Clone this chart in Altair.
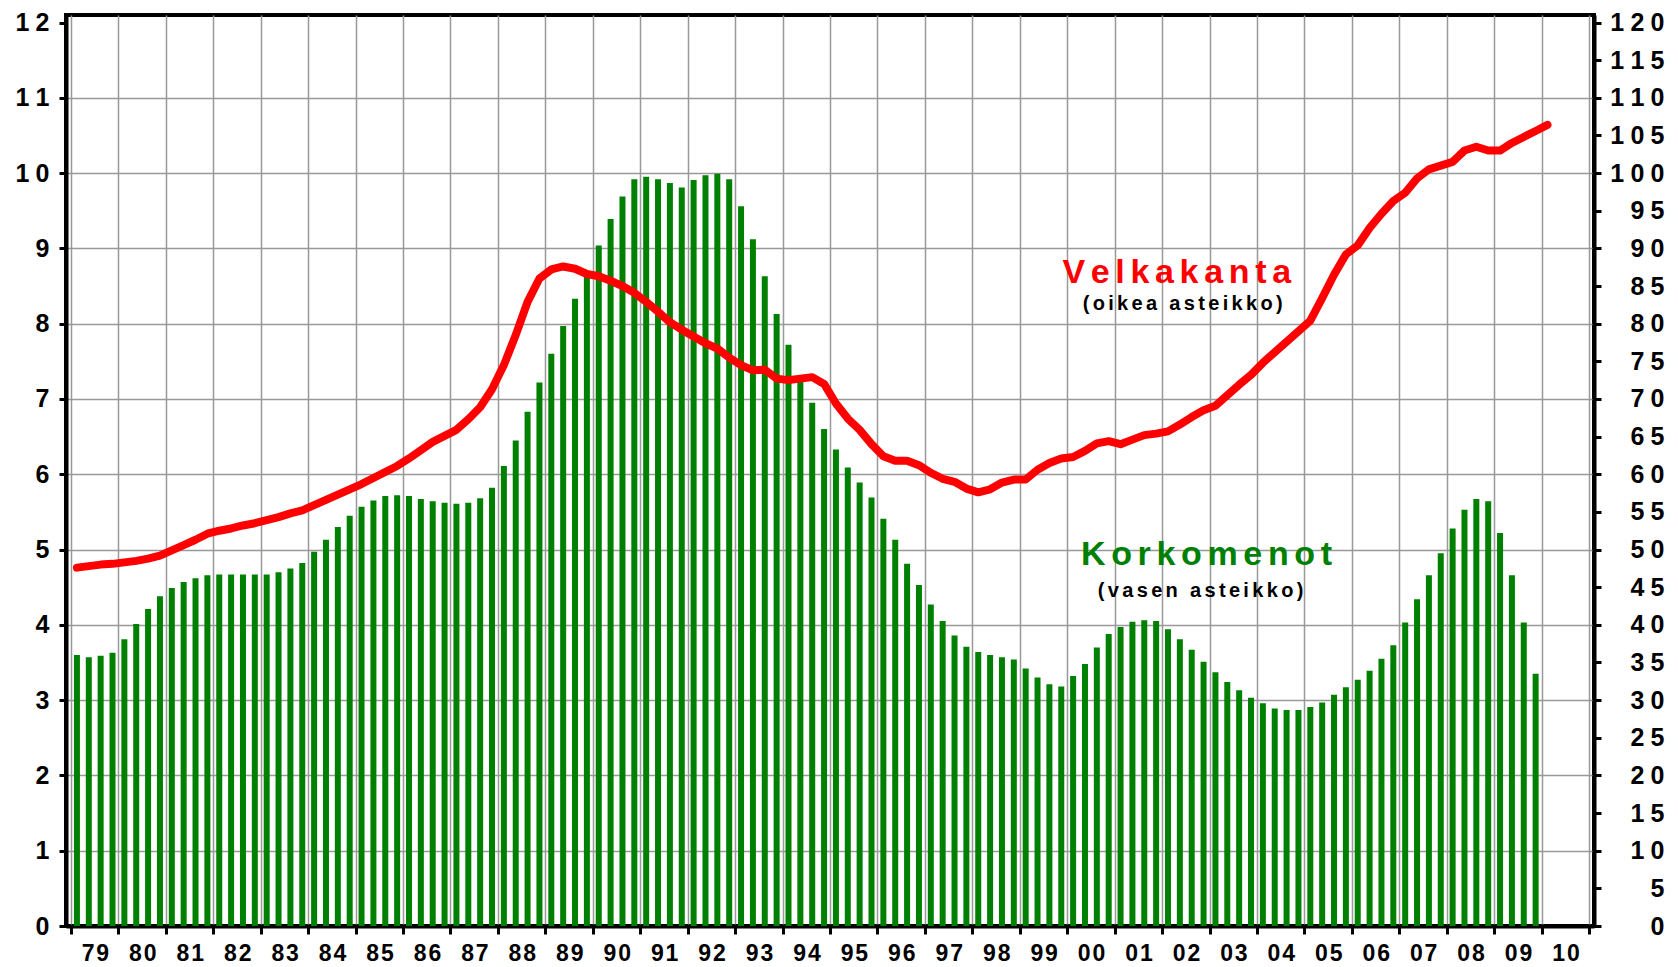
import altair as alt
import pandas as pd

# Korkomenot (vasen asteikko), neljännesvuosittain 1979Q1 - 2009Q4
korkomenot = [
    3.60, 3.57, 3.59, 3.63,   # 1979
    3.81, 4.01, 4.21, 4.38,   # 1980
    4.49, 4.57, 4.62, 4.66,   # 1981
    4.67, 4.67, 4.67, 4.67,   # 1982
    4.67, 4.70, 4.75, 4.82,   # 1983
    4.97, 5.13, 5.30, 5.45,   # 1984
    5.57, 5.65, 5.71, 5.72,   # 1985
    5.71, 5.67, 5.64, 5.62,   # 1986
    5.61, 5.62, 5.68, 5.82,   # 1987
    6.11, 6.45, 6.83, 7.22,   # 1988
    7.60, 7.97, 8.33, 8.63,   # 1989
    9.04, 9.39, 9.69, 9.92,   # 1990
    9.95, 9.92, 9.87, 9.81,   # 1991
    9.91, 9.97, 9.99, 9.92,   # 1992
    9.56, 9.12, 8.63, 8.13,   # 1993
    7.72, 7.31, 6.95, 6.60,   # 1994
    6.33, 6.09, 5.89, 5.69,   # 1995
    5.41, 5.13, 4.81, 4.53,   # 1996
    4.27, 4.05, 3.86, 3.71,   # 1997
    3.64, 3.60, 3.57, 3.54,   # 1998
    3.42, 3.30, 3.21, 3.18,   # 1999
    3.32, 3.48, 3.70, 3.88,   # 2000
    3.97, 4.04, 4.06, 4.05,   # 2001
    3.94, 3.81, 3.67, 3.51,   # 2002
    3.37, 3.24, 3.13, 3.03,   # 2003
    2.96, 2.89, 2.87, 2.87,   # 2004
    2.91, 2.97, 3.07, 3.17,   # 2005
    3.27, 3.39, 3.55, 3.73,   # 2006
    4.03, 4.34, 4.66, 4.95,   # 2007
    5.28, 5.53, 5.67, 5.64,   # 2008
    5.22, 4.66, 4.03, 3.35,   # 2009
]

# Velkakanta (oikea asteikko), neljännesvuosittain 1979Q1 - 2010Q1
velkakanta = [
    47.6, 47.8, 48.0, 48.1,   # 1979
    48.3, 48.5, 48.8, 49.2,   # 1980
    49.9, 50.6, 51.3, 52.1,   # 1981
    52.5, 52.8, 53.2, 53.5,   # 1982
    53.9, 54.3, 54.8, 55.2,   # 1983
    55.9, 56.6, 57.3, 58.0,   # 1984
    58.7, 59.5, 60.3, 61.1,   # 1985
    62.1, 63.2, 64.3, 65.1,   # 1986
    65.9, 67.3, 68.9, 71.3,   # 1987
    74.5, 78.5, 82.9, 86.0,   # 1988
    87.2, 87.6, 87.3, 86.6,   # 1989
    86.3, 85.7, 85.0, 84.1,   # 1990
    82.9, 81.6, 80.2, 79.2,   # 1991
    78.3, 77.4, 76.7, 75.5,   # 1992
    74.5, 73.8, 73.9, 72.7,   # 1993
    72.5, 72.7, 72.9, 72.0,   # 1994
    69.4, 67.4, 65.9, 64.0,   # 1995
    62.4, 61.8, 61.8, 61.2,   # 1996
    60.2, 59.4, 59.0, 58.1,   # 1997
    57.6, 58.0, 58.9, 59.3,   # 1998
    59.3, 60.6, 61.5, 62.1,   # 1999
    62.3, 63.1, 64.1, 64.4,   # 2000
    64.0, 64.6, 65.2, 65.4,   # 2001
    65.7, 66.6, 67.6, 68.5,   # 2002
    69.1, 70.5, 71.9, 73.2,   # 2003
    74.8, 76.2, 77.6, 79.0,   # 2004
    80.4, 83.4, 86.5, 89.2,   # 2005
    90.4, 92.7, 94.6, 96.3,   # 2006
    97.4, 99.3, 100.5, 101.0, # 2007
    101.5, 103.0, 103.5, 103.0,  # 2008
    103.0, 104.0, 104.8, 105.6,  # 2009
    106.4,                    # 2010
]

first_year = 1979
year_ticks = list(range(1979, 2012))
left_ticks = list(range(0, 13))
right_ticks = list(range(0, 121, 5))

GREEN = "#008000"
RED = "#FF0000"
GRID = "#999999"
FONT = "Liberation Sans"
SP6 = "\u2006"
SP4 = "\u2005"
HAIR = "\u200a"


def quarter_pos(i):
    return first_year + (i + 0.5) / 4.0


bars_df = pd.DataFrame({
    "t": [quarter_pos(i) for i in range(len(korkomenot))],
    "korkomenot": korkomenot,
})
line_df = pd.DataFrame({
    "t": [quarter_pos(i) for i in range(len(velkakanta))],
    "velkakanta": velkakanta,
})

x_scale = alt.Scale(domain=[1979, 2011], nice=False, zero=False)
y_left_scale = alt.Scale(domain=[0, 12.1], nice=False, zero=True)
y_right_scale = alt.Scale(domain=[0, 121], nice=False, zero=True)

x_axis = alt.Axis(
    values=year_ticks, title=None, grid=True, gridColor=GRID, gridWidth=1.5,
    domainColor="black", domainWidth=4, tickColor="black", tickWidth=3, tickSize=8,
    labelExpr="datum.value > 2010 ? '' : join(split(substring(toString(datum.value), 2), ''), '" + HAIR + "')",
    labelOffset=23.875, labelFont=FONT, labelFontSize=23, labelFontWeight="bold",
    labelColor="black", labelBaseline="alphabetic", labelPadding=26,
    labelFlush=False, labelOverlap=False,
)

y_left_axis = alt.Axis(
    values=left_ticks, format="d", title=None, grid=True,
    gridColor={"condition": {"test": "datum.value >= 12", "value": "transparent"}, "value": GRID},
    gridWidth=1.5, domainColor="black", domainWidth=4, tickColor="black",
    tickWidth=3, tickSize=7, labelPadding=10, labelFont=FONT, labelFontSize=25,
    labelFontWeight="bold", labelColor="black",
    labelExpr="join(split(datum.label, ''), '" + SP4 + "')",
    labelFlush=False, labelOverlap=False,
)

y_right_axis = alt.Axis(
    orient="right", values=right_ticks, format="d", title=None, grid=False,
    domainColor="black", domainWidth=4, tickColor="black", tickWidth=3, tickSize=7,
    labelAlign="right", labelPadding=63, labelFont=FONT, labelFontSize=25,
    labelFontWeight="bold", labelColor="black",
    labelExpr="join(split(datum.label, ''), '" + SP4 + "')",
    labelFlush=False, labelOverlap=False,
)

bars = alt.Chart(bars_df).mark_bar(size=6, color=GREEN).encode(
    x=alt.X("t:Q", scale=x_scale, axis=x_axis),
    y=alt.Y("korkomenot:Q", scale=y_left_scale, axis=y_left_axis),
)


def label(text, xval, yval, size, color):
    return alt.Chart().mark_text(
        text=SP6.join(text), font=FONT, fontSize=size, fontWeight="bold",
        color=color, align="center", baseline="alphabetic",
    ).encode(x=alt.datum(xval), y=alt.datum(yval))


t_velka = label("Velkakanta", 2002.31, 8.544, 34, RED)
t_oikea = label("(oikea asteikko)", 2002.435, 8.182, 20, "black")
t_korko = label("Korkomenot", 2002.937, 4.795, 34, GREEN)
t_vasen = label("(vasen asteikko)", 2002.812, 4.370, 20, "black")

left_group = alt.layer(bars, t_velka, t_oikea, t_korko, t_vasen)

line = alt.Chart(line_df).mark_line(
    color=RED, strokeWidth=8, strokeCap="round", strokeJoin="round"
).encode(
    x=alt.X("t:Q", scale=x_scale),
    y=alt.Y("velkakanta:Q", scale=y_right_scale, axis=y_right_axis),
)

chart = alt.layer(left_group, line).resolve_scale(y="independent").properties(
    width=1528, height=911,
    autosize=alt.AutoSizeParams(type="none"),
    padding={"left": 58, "top": 7, "right": 76, "bottom": 41},
    background="white",
).configure_view(stroke="black", strokeWidth=4)

chart.save("out.html", embed_options={"renderer": "svg", "actions": False})
